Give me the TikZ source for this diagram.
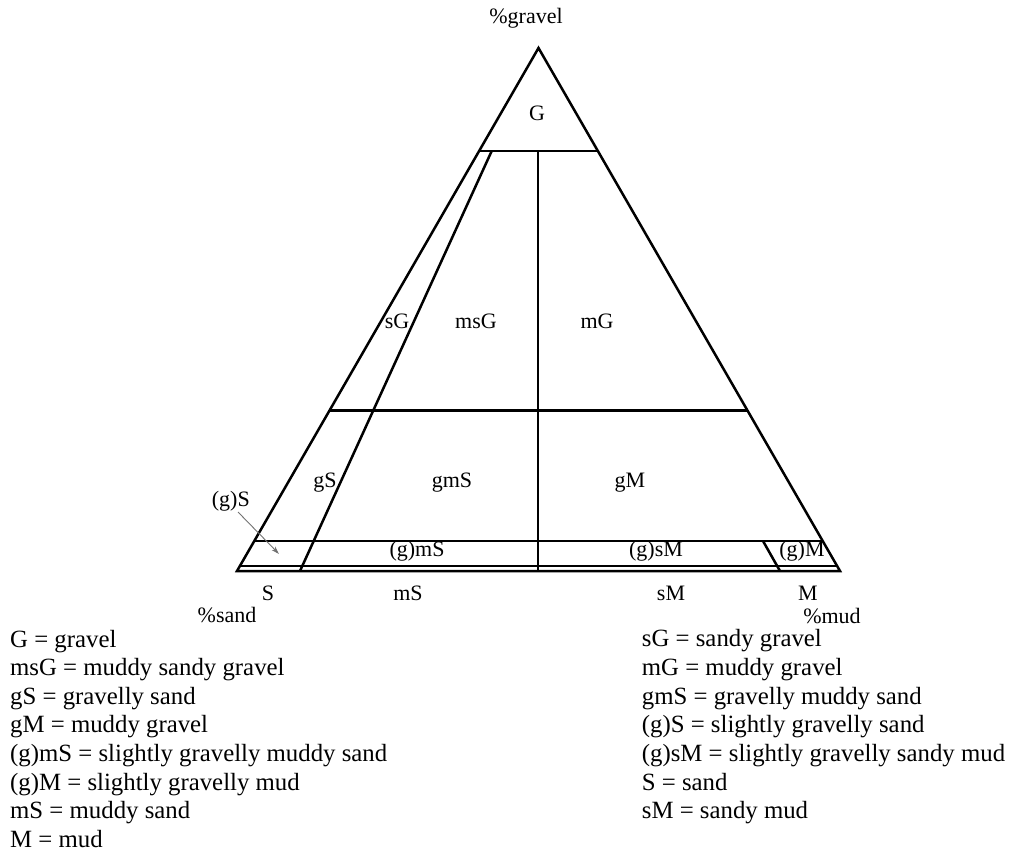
\documentclass[tikz,border=0pt]{standalone}
\usepackage{fontspec}
\setmainfont{Liberation Serif}
\usetikzlibrary{calc,arrows.meta}
\begin{document}
\begin{tikzpicture}[x=1pt,y=-1pt,
  edge/.style={line width=2.5pt, line join=miter, line cap=butt},
  thin edge/.style={line width=2.3pt},
  lbl/.style={font=\fontsize{22}{26}\selectfont, inner sep=0pt, anchor=base},
  leg/.style={font=\fontsize{24.8}{29}\selectfont, inner sep=0pt, anchor=base west},
  pointer/.style={draw=black!55, line width=0.9pt, -{Stealth[length=8pt,width=5pt,fill=black!80]}}
]
\useasboundingbox (0,0) rectangle (1013,854);
% corners
\coordinate (A) at (538.5,48);
\coordinate (L) at (237,571);
\coordinate (R) at (840,571);
% horizontal class boundaries (80%, 30%, 5%, trace gravel)
\foreach \n/\t in {1/0.197,2/0.6935,3/0.9426,4/0.9904}{
  \coordinate (L\n) at ($(A)!\t!(L)$);
  \coordinate (R\n) at ($(A)!\t!(R)$);
}
\draw[edge] (A) -- (L) -- (R) -- cycle;
\draw[edge] (L1) -- (R1);
\draw[edge] (L2) -- (R2);
\draw[edge] (L3) -- (R3);
\draw[thin edge] (L4) -- (R4);
% sand:mud ratio lines
\coordinate (s9t) at (491.7,151);
\coordinate (s9b) at (300,571);
\coordinate (s1t) at (538,151);
\coordinate (s1b) at (538,571);
\coordinate (m9t) at (763,541);
\coordinate (m9b) at (780,571);
\draw[edge] (s9t) -- (s9b);
\draw[edge] (s1t) -- (s1b);
\draw[edge] (m9t) -- (m9b);
% pointer for (g)S
\coordinate (pa) at (238,512);
\coordinate (pb) at (279,554);
\draw[pointer] (pa) -- (pb);
% labels inside / around triangle
\node[lbl] (tgravel) at (526,23) {\%gravel};
\node[lbl] (tG) at (537,120) {G};
\node[lbl] (tsG) at (397,328) {sG};
\node[lbl] (tmsG) at (476,328) {msG};
\node[lbl] (tmG) at (597,328) {mG};
\node[lbl] (tgS) at (325,487) {gS};
\node[lbl] (tgmS) at (452,487) {gmS};
\node[lbl] (tgM) at (630,487) {gM};
\node[lbl, anchor=base east] (tgsS) at (250,506) {(g)S};
\node[lbl] (tgmS2) at (417,556) {(g)mS};
\node[lbl] (tgsM) at (656,556) {(g)sM};
\node[lbl] (tgM2) at (802,556) {(g)M};
\node[lbl] (tS) at (268,600) {S};
\node[lbl] (tmS) at (408,600) {mS};
\node[lbl] (tsM) at (671,600) {sM};
\node[lbl] (tM) at (808,600) {M};
\node[lbl] (tsand) at (227,622) {\%sand};
\node[lbl] (tmud) at (832,623) {\%mud};
% legend, left column
\node[leg] (l1) at (10,647) {G = gravel};
\node[leg] (l2) at (10,675.6) {msG = muddy sandy gravel};
\node[leg] (l3) at (10,704.2) {gS = gravelly sand};
\node[leg] (l4) at (10,732.8) {gM = muddy gravel};
\node[leg] (l5) at (10,761.4) {(g)mS = slightly gravelly muddy sand};
\node[leg] (l6) at (10,790) {(g)M = slightly gravelly mud};
\node[leg] (l7) at (10,818.6) {mS = muddy sand};
\node[leg] (l8) at (10,847.2) {M = mud};
% legend, right column
\node[leg] (r1) at (641.7,646.5) {sG = sandy gravel};
\node[leg] (r2) at (641.7,675.2) {mG = muddy gravel};
\node[leg] (r3) at (641.7,704) {gmS = gravelly muddy sand};
\node[leg] (r4) at (641.7,732.7) {(g)S = slightly gravelly sand};
\node[leg] (r5) at (641.7,761.4) {(g)sM = slightly gravelly sandy mud};
\node[leg] (r6) at (641.7,790.1) {S = sand};
\node[leg] (r7) at (641.7,818.8) {sM = sandy mud};
\end{tikzpicture}
\end{document}
